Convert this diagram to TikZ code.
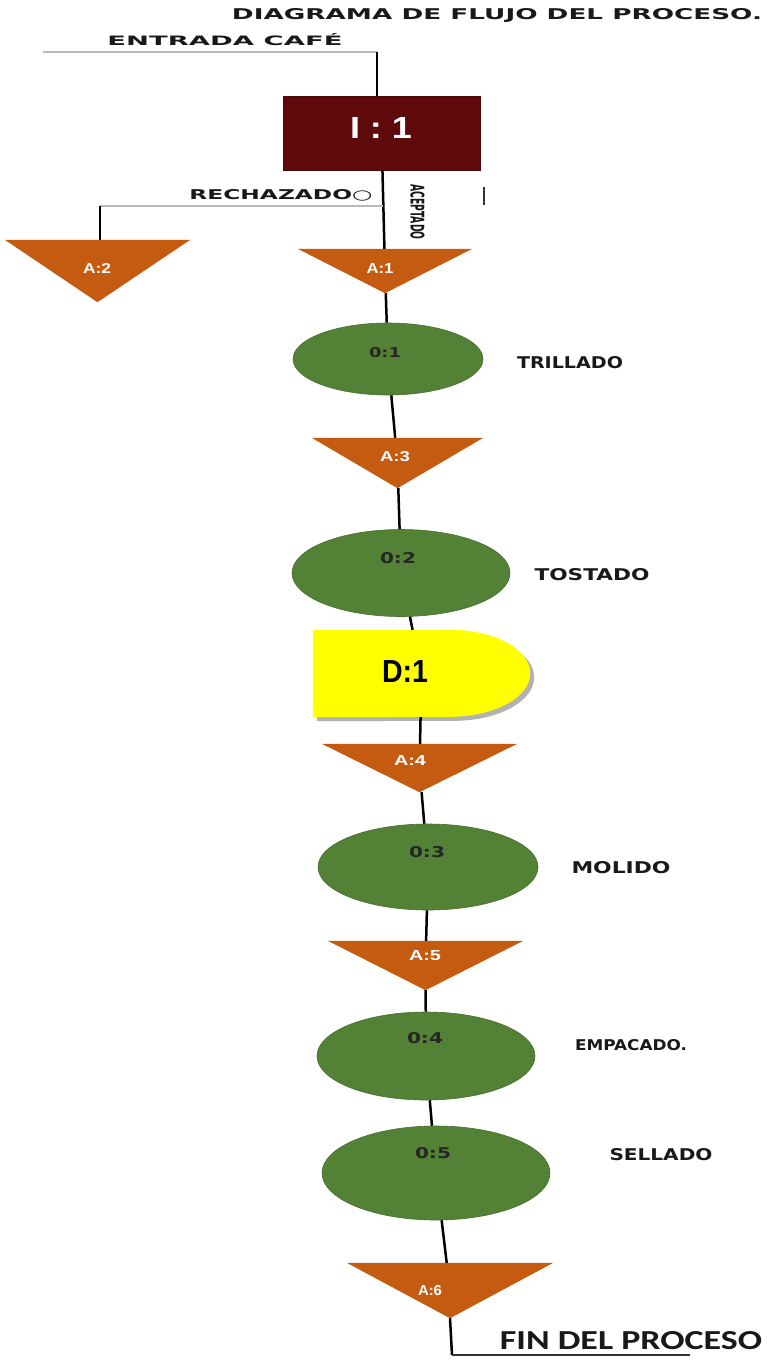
\documentclass[tikz,border=0pt]{standalone}
\usepackage{fontspec}
\usepackage{graphicx}
\setmainfont{Liberation Sans}
\newfontfamily\dvs{DejaVu Sans}
\newfontfamily\carl{Carlito}
\newfontfamily\arialf{Liberation Sans}
\usetikzlibrary{backgrounds,shapes.geometric}
\definecolor{triorange}{HTML}{C55A11}
\definecolor{opgreen}{HTML}{538135}
\definecolor{boxred}{HTML}{5E0A0A}
\definecolor{dyellow}{HTML}{FFFF00}
\newcommand{\rsz}[3]{\resizebox{#1pt}{#2pt}{#3}}
\begin{document}
\begin{tikzpicture}[x=1pt,y=-1pt,
  spine/.style={line width=2.5pt, black},
  grayline/.style={line width=2.6pt, gray!55},
  trinode/.style={rectangle, inner sep=0pt, draw=none},
  tlab/.style={inner sep=0pt, text=white, font=\arialf\bfseries},
  olab/.style={inner sep=0pt, text=black!85, font=\dvs\bfseries},
  opnode/.style={ellipse, fill=opgreen, draw=opgreen!85!black, line width=0.6pt, inner sep=0pt},
  side/.style={inner sep=0pt, text=black!90, font=\dvs\bfseries}]
\useasboundingbox (0,0) rectangle (767,1366);

% titles
\node[side] (title) at (497,15) {\rsz{530}{11}{DIAGRAMA DE FLUJO DEL PROCESO.}};
\node[side] (entrada) at (225,40) {\rsz{235}{12}{ENTRADA CAFÉ}};

% inspection box
\node[rectangle, fill=boxred, draw=boxred!80!black, minimum width=197pt, minimum height=74pt, inner sep=0pt] (i1) at (381.5,133) {};
\node[inner sep=0pt, text=white, font=\arialf\bfseries] (i1t) at (381,127.5) {\rsz{62}{21}{I : 1}};

% triangles (storage)
\node[trinode, minimum width=185pt, minimum height=62pt] (a2) at (97.5,271) {};
\node[trinode, minimum width=174pt, minimum height=44pt] (a1) at (385,271) {};
\node[trinode, minimum width=171pt, minimum height=50pt] (a3) at (397.5,463) {};
\node[trinode, minimum width=195pt, minimum height=48pt] (a4) at (419.5,768) {};
\node[trinode, minimum width=195pt, minimum height=49pt] (a5) at (425.5,965.5) {};
\node[trinode, minimum width=206pt, minimum height=55pt] (a6) at (450,1290.5) {};

% delay node
\node[trinode, minimum width=217pt, minimum height=87pt] (d1) at (421.5,673.5) {};

\begin{pgfonlayer}{background}
  \fill[white] (0,0) rectangle (767,1366);
  \foreach \t in {a1,a2,a3,a4,a5,a6}{
    \fill[triorange] (\t.north west) -- (\t.north east) -- (\t.south) -- cycle;
  }
  \fill[black!30] ([shift={(4,4)}]d1.north west) -- ([shift={(-76,4)}]d1.north east)
     arc[start angle=-90, end angle=90, x radius=80, y radius=43.5] -- ([shift={(4,4)}]d1.south west) -- cycle;
  \fill[dyellow] (d1.north west) -- ([xshift=-80pt]d1.north east)
     arc[start angle=-90, end angle=90, x radius=80, y radius=43.5] -- (d1.south west) -- cycle;
\end{pgfonlayer}

\node[tlab] (a2t) at (97,268) {\rsz{28}{10}{A:2}};
\node[tlab] (a1t) at (380,268) {\rsz{27}{10}{A:1}};
\node[tlab] (a3t) at (395,457) {\rsz{30}{10}{A:3}};
\node[tlab] (a4t) at (410,760) {\rsz{32}{10}{A:4}};
\node[tlab] (a5t) at (425,956) {\rsz{32}{10}{A:5}};
\node[tlab] (a6t) at (430,1291) {\rsz{24}{10}{A:6}};
\node[inner sep=0pt, text=black, font=\arialf\bfseries] (d1t) at (405,671) {\rsz{46}{22}{D:1}};

% operations
\node[opnode, minimum width=190pt, minimum height=72pt] (o1) at (388,359) {};
\node[opnode, minimum width=218pt, minimum height=87pt] (o2) at (401,573) {};
\node[opnode, minimum width=220pt, minimum height=86pt] (o3) at (428,867) {};
\node[opnode, minimum width=218pt, minimum height=88pt] (o4) at (426,1056) {};
\node[opnode, minimum width=228pt, minimum height=94pt] (o5) at (436,1173) {};
\node[olab] (o1t) at (385,353) {\rsz{32}{10}{0:1}};
\node[olab] (o2t) at (398,558) {\rsz{36}{11}{0:2}};
\node[olab] (o3t) at (427,852) {\rsz{36}{11}{0:3}};
\node[olab] (o4t) at (425,1038) {\rsz{36}{11}{0:4}};
\node[olab] (o5t) at (433,1153) {\rsz{36}{11}{0:5}};

% side labels
\node[side] (l1) at (570,363) {\rsz{106}{12}{TRILLADO}};
\node[side] (l2) at (592,575) {\rsz{115}{12}{TOSTADO}};
\node[side] (l3) at (621,868) {\rsz{99}{12}{MOLIDO}};
\node[side] (l4) at (631,1045) {\rsz{112}{11}{EMPACADO.}};
\node[side] (l5) at (661,1155) {\rsz{103}{12}{SELLADO}};
\node[side] (rech) at (281,195) {\rsz{183}{10}{RECHAZADO○}};
\node[side, rotate=-90] (acep) at (417.5,212) {\rsz{55}{14}{ACEPTADO}};
\node[inner sep=0pt, text=black!90, font=\carl\bfseries] (fin) at (631,1341) {\rsz{262}{18}{FIN DEL PROCESO}};

% coordinates
\coordinate (e0) at (43,52);
\coordinate (e1) at (377,52);
\coordinate (r0) at (383,206);
\coordinate (r1) at (100,206);
\coordinate (f0) at (452,1355);
\coordinate (f1) at (690,1355);
\coordinate (m0) at (484,187);
\coordinate (m1) at (484,205);

% connectors
\draw[grayline] (e0) -- (e1);
\draw[spine] (e1) -- (e1 |- i1.north);
\draw[spine] (i1) -- (a1);
\draw[grayline] (r0) -- (r1);
\draw[spine] (r1) -- (r1 |- a2.north);
\draw[spine] (a1) -- (o1);
\draw[spine] (o1) -- (a3);
\draw[spine] (a3) -- (o2);
\draw[spine] (o2) -- (d1);
\draw[spine] (d1) -- (a4);
\draw[spine] (a4) -- (o3);
\draw[spine] (o3) -- (a5);
\draw[spine] (a5) -- (o4);
\draw[spine] (o4) -- (o5);
\draw[spine] (o5) -- (a6);
\draw[spine] (a6.south) -- (f0);
\draw[grayline, black!80, line width=2pt] (f0) -- (f1);
\draw[line width=1.5pt, black!80] (m0) -- (m1);
\end{tikzpicture}
\end{document}
